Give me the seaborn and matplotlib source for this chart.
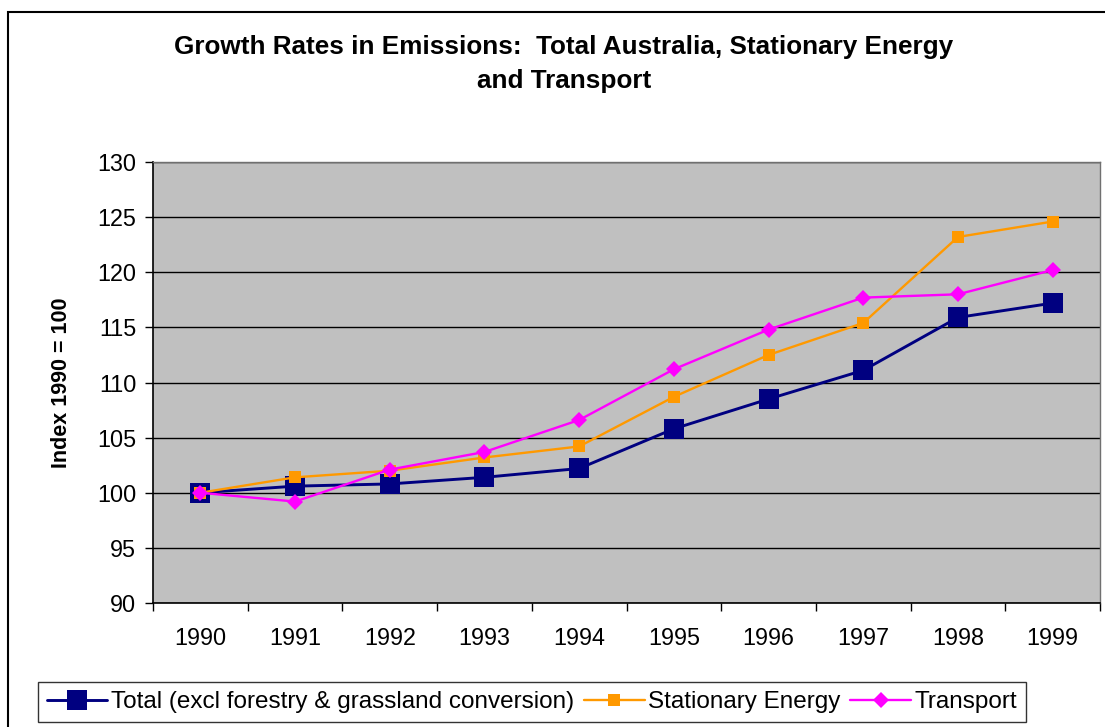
import numpy as np
import pandas as pd
import seaborn as sns
import matplotlib.pyplot as plt
from matplotlib.patches import Rectangle

# Emissions growth, index 1990 = 100
years = ['1990', '1991', '1992', '1993', '1994', '1995', '1996', '1997', '1998', '1999']
total = [100.0, 100.6, 100.8, 101.4, 102.2, 105.8, 108.5, 111.1, 115.9, 117.2]
stationary = [100.0, 101.4, 102.0, 103.2, 104.2, 108.7, 112.5, 115.4, 123.2, 124.6]
transport = [100.0, 99.2, 102.1, 103.7, 106.6, 111.2, 114.8, 117.7, 118.0, 120.2]

names = ['Total (excl forestry & grassland conversion)', 'Stationary Energy', 'Transport']

df = pd.DataFrame({'Year': years, names[0]: total, names[1]: stationary, names[2]: transport})
df['pos'] = np.arange(len(years))

sns.set_style('white', {'xtick.bottom': True, 'ytick.left': True,
                        'text.color': 'black', 'axes.labelcolor': 'black',
                        'xtick.color': 'black', 'ytick.color': 'black'})
plt.rcParams['font.family'] = ['Liberation Sans', 'DejaVu Sans']

fig = plt.figure(figsize=(11.05, 7.27), dpi=100)
ax = fig.add_axes([153 / 1105, 1 - 603 / 727, 947 / 1105, 441 / 727])
ax.set_facecolor('#C0C0C0')

styles = [
    (names[0], '#000080', 's', 14, 2.1),
    (names[1], '#FF9900', 's', 8, 1.7),
    (names[2], '#FF00FF', 'D', 8.5, 1.7),
]
for name, col, mk, ms, lw in styles:
    sns.lineplot(data=df, x='pos', y=name, ax=ax, color=col, marker=mk, markersize=ms,
                 markeredgewidth=0, linewidth=lw, label=name)

ax.set_xlim(-0.5, 9.5)
ax.set_ylim(90, 130)
ax.set_yticks(range(90, 131, 5))
ax.set_xticks(df['pos'])
ax.set_xticklabels(years)
ax.set_xticks(np.arange(-0.5, 10, 1), minor=True)
ax.tick_params(axis='x', which='major', length=0, pad=17, labelsize=16.8)
ax.tick_params(axis='x', which='minor', bottom=True, length=6, width=1, color='black', direction='out')
ax.tick_params(axis='y', left=True, length=6, width=1, color='black', direction='out',
               labelsize=16.8, pad=6)
ax.yaxis.grid(True, color='black', linewidth=1)
ax.set_axisbelow(True)
ax.set_xlabel('')
ax.set_ylabel('Index 1990 = 100', fontsize=15.5, fontweight='bold', labelpad=18)

for side in ['top', 'right']:
    ax.spines[side].set_color('#707070')
    ax.spines[side].set_linewidth(1)
ax.spines['left'].set_color('black')
ax.spines['bottom'].set_color('black')
ax.spines['left'].set_linewidth(1.2)
ax.spines['bottom'].set_linewidth(1.2)

fig.text(564 / 1105, 1 - 64 / 727,
         'Growth Rates in Emissions:  Total Australia, Stationary Energy\nand Transport',
         ha='center', va='center', fontsize=18.8, fontweight='bold', linespacing=1.5)

handles, labels = ax.get_legend_handles_labels()
ax.get_legend().remove()
leg = fig.legend(handles, labels, loc='center', bbox_to_anchor=(532 / 1105, 1 - 702 / 727),
                 ncol=3, frameon=True, fancybox=False, edgecolor='black', fontsize=17.5,
                 handlelength=2.5, handletextpad=0.15, columnspacing=0.4, borderpad=0.35,
                 numpoints=1)
leg.get_frame().set_linewidth(1)

fig.patches.append(Rectangle((8 / 1105, -0.1), 1.2, 1.1 - 12 / 727, transform=fig.transFigure,
                             fill=False, edgecolor='black', linewidth=1.5))

fig.savefig('out.png', dpi=100)
